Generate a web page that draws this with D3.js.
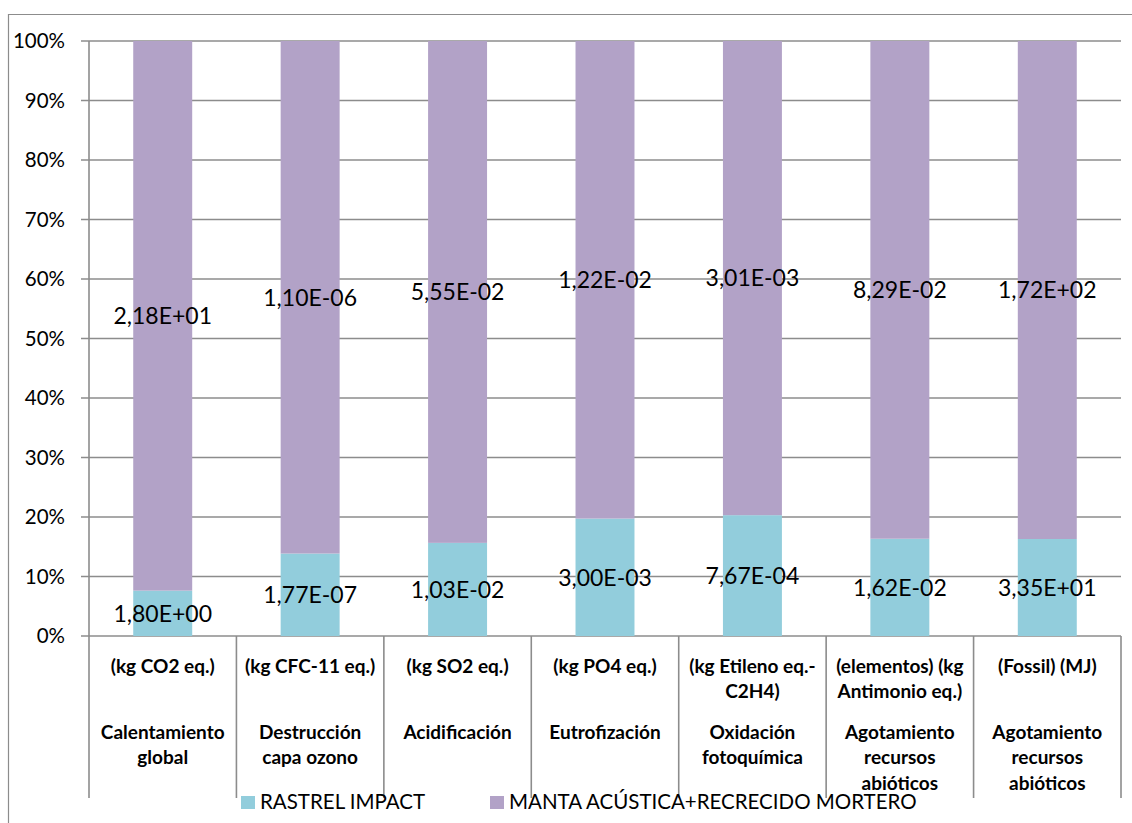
<!DOCTYPE html>
<head>
  <meta charset="utf-8">
  <script src="https://d3js.org/d3.v7.min.js"></script>
  <style>
    body { margin: 0; background: #fff; font-family: Lato, sans-serif; }
    .grid line { stroke: #8c8c8c; stroke-width: 1.6; }
  </style>
</head>
<body>
  <div id="chart"></div>
  <script>
    // data
    var units = [
      ["(kg CO2 eq.)"],
      ["(kg CFC-11 eq.)"],
      ["(kg SO2 eq.)"],
      ["(kg PO4 eq.)"],
      ["(kg Etileno eq.-", "C2H4)"],
      ["(elementos) (kg", "Antimonio eq.)"],
      ["(Fossil) (MJ)"]
    ];
    var names = [
      ["Calentamiento", "global"],
      ["Destrucción", "capa ozono"],
      ["Acidificación"],
      ["Eutrofización"],
      ["Oxidación", "fotoquímica"],
      ["Agotamiento", "recursos", "abióticos"],
      ["Agotamiento", "recursos", "abióticos"]
    ];
    var series = ["RASTREL IMPACT", "MANTA ACÚSTICA+RECRECIDO MORTERO"];
    var colors = ["#92cddc", "#b2a2c7"];
    var rastrel = [1.80e+00, 1.77e-07, 1.03e-02, 3.00e-03, 7.67e-04, 1.62e-02, 3.35e+01];
    var manta = [2.18e+01, 1.10e-06, 5.55e-02, 1.22e-02, 3.01e-03, 8.29e-02, 1.72e+02];
    var yTicks = [0, 0.1, 0.2, 0.3, 0.4, 0.5, 0.6, 0.7, 0.8, 0.9, 1];

    var width = 1132, height = 823;
    var plotLeft = 89, plotRight = 1121, plotTop = 41, plotBottom = 636, axisBottom = 798;

    var svg = d3.select("#chart").append("svg")
      .attr("width", width)
      .attr("height", height);

    // outer frame (only top and left visible)
    svg.append("path")
      .attr("d", "M8.5," + height + "V14.5H" + width)
      .attr("fill", "none")
      .attr("stroke", "#8c8c8c")
      .attr("stroke-width", 1.2);

    var rows = rastrel.map(function(r, i) { return { i: i, a: r, b: manta[i] }; });
    var stack = d3.stack().keys(["a", "b"]).offset(d3.stackOffsetExpand);
    var layers = stack(rows);

    var x = d3.scaleBand()
      .domain(d3.range(rows.length))
      .range([plotLeft, plotRight])
      .paddingInner(0.6)
      .paddingOuter(0.3);
    var y = d3.scaleLinear().domain([0, 1]).range([plotBottom, plotTop]);

    // gridlines
    svg.append("g").attr("class", "grid")
      .selectAll("line").data(yTicks).join("line")
      .attr("x1", plotLeft - 8).attr("x2", plotRight)
      .attr("y1", function(d) { return y(d); })
      .attr("y2", function(d) { return y(d); });

    // y labels
    svg.append("g").selectAll("text").data(yTicks).join("text")
      .attr("x", 65)
      .attr("y", function(d) { return y(d); })
      .attr("dy", "0.36em")
      .attr("text-anchor", "end")
      .attr("font-size", 20.5)
      .attr("fill", "#000")
      .text(d3.format(".0%"));

    // bars
    svg.append("g").selectAll("g").data(layers).join("g")
      .attr("fill", function(d, k) { return colors[k]; })
      .selectAll("rect").data(function(d) { return d; }).join("rect")
      .attr("x", function(d) { return x(d.data.i); })
      .attr("width", x.bandwidth())
      .attr("y", function(d) { return y(d[1]); })
      .attr("height", function(d) { return y(d[0]) - y(d[1]); });

    // category separators
    var step = x.step();
    svg.append("g").attr("class", "grid")
      .selectAll("line").data(d3.range(rows.length + 1)).join("line")
      .attr("x1", function(d) { return plotLeft + d * step; })
      .attr("x2", function(d) { return plotLeft + d * step; })
      .attr("y1", function(d) { return d == 0 ? plotTop : plotBottom; })
      .attr("y2", axisBottom);

    function sci(v) {
      var p = v.toExponential(2).split("e");
      var n = +p[1];
      return p[0].replace(".", ",") + "E" + (n < 0 ? "-" : "+") + String(Math.abs(n)).padStart(2, "0");
    }

    // data labels
    layers.forEach(function(layer, k) {
      svg.append("g").selectAll("text").data(layer).join("text")
        .attr("x", function(d) { return x(d.data.i) + x.bandwidth() / 2; })
        .attr("y", function(d) { return y((d[0] + d[1]) / 2); })
        .attr("dy", "0.36em")
        .attr("text-anchor", "middle")
        .attr("font-size", 23)
        .attr("fill", "#000")
        .text(function(d) { return sci(k == 0 ? d.data.a : d.data.b); });
    });

    // category labels
    var cx = function(i) { return x(i) + x.bandwidth() / 2; };
    var cat = svg.append("g").attr("font-size", 19).attr("font-weight", "bold")
      .attr("text-anchor", "middle");
    units.forEach(function(lines, i) {
      lines.forEach(function(t, j) {
        cat.append("text").attr("x", cx(i)).attr("y", 666 + j * 25.5)
          .attr("dy", "0.36em").text(t);
      });
    });
    names.forEach(function(lines, i) {
      lines.forEach(function(t, j) {
        cat.append("text").attr("x", cx(i)).attr("y", 732 + j * 25.5)
          .attr("dy", "0.36em").text(t);
      });
    });

    // legend
    var legX = [241, 490];
    var leg = svg.append("g").selectAll("g").data(series).join("g")
      .attr("transform", function(d, k) { return "translate(" + legX[k] + ",796)"; });
    leg.append("rect").attr("width", 14).attr("height", 13)
      .attr("fill", function(d, k) { return colors[k]; });
    leg.append("text").attr("x", 19).attr("y", 13)
      .attr("font-size", 20.5).attr("fill", "#000")
      .text(function(d) { return d; });
  </script>
</body>
